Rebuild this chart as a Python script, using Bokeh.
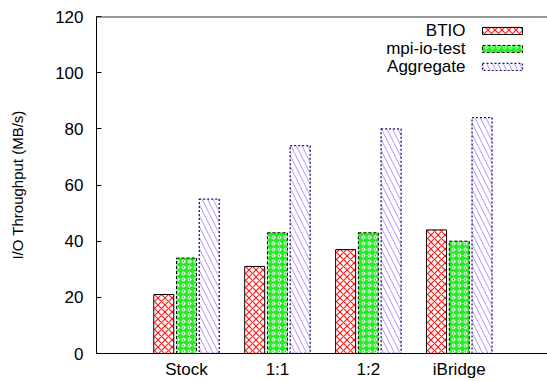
from bokeh.plotting import figure
from bokeh.models import (ColumnDataSource, Legend, LegendItem, Label, Span,
                          FixedTicker)
from bokeh.embed import file_html
from bokeh.resources import INLINE

categories = ["Stock", "1:1", "1:2", "iBridge"]
btio = [21, 31, 37, 44]
mpi_io_test = [34, 43, 43, 40]
aggregate = [55, 74, 80, 84]
series_names = ["BTIO", "mpi-io-test", "Aggregate"]
y_ticks = [0, 20, 40, 60, 80, 100, 120]

FONT = "Liberation Sans"

p = figure(width=547, height=381, output_backend="svg", toolbar_location=None,
           x_range=(-0.99, 3.97), y_range=(0, 120),
           min_border_left=96, min_border_right=0, min_border_top=16,
           min_border_bottom=27)
p.outline_line_color = None
p.xgrid.visible = False
p.ygrid.visible = False

xs = list(range(len(categories)))
bw = 0.22
off = 0.25

src_b = ColumnDataSource(dict(x=[x - off for x in xs], top=btio))
src_m = ColumnDataSource(dict(x=xs, top=mpi_io_test))
src_a = ColumnDataSource(dict(x=[x + off for x in xs], top=aggregate))

r_b = p.vbar(x="x", top="top", width=bw, source=src_b,
             fill_color="white", line_color="black", line_width=1,
             hatch_pattern="diagonal_cross", hatch_color="#ff1a1a",
             hatch_scale=7, hatch_weight=1.2)
r_m = p.vbar(x="x", top="top", width=bw, source=src_m,
             fill_color="#22ee22", line_color="black", line_width=1,
             line_dash="3 2",
             hatch_pattern="ring", hatch_color="white",
             hatch_scale=6, hatch_weight=1)
r_a = p.vbar(x="x", top="top", width=bw, source=src_a,
             fill_color="white", line_color="#2a0a6e", line_width=1.3,
             line_dash="2 2",
             hatch_pattern="left_diagonal_line", hatch_color="#9b6bff",
             hatch_scale=11, hatch_weight=1, hatch_alpha=0.75)

# top border line
p.add_layout(Span(location=120, dimension="width", line_color="#333333",
                  line_width=2))

# axes
p.yaxis.ticker = FixedTicker(ticks=y_ticks)
p.yaxis.major_tick_in = 5
p.yaxis.major_tick_out = 0
p.yaxis.minor_tick_line_color = None
p.yaxis.major_label_standoff = 13
p.yaxis.major_label_text_font = FONT
p.yaxis.major_label_text_font_size = "17px"
p.yaxis.major_label_text_color = "black"
p.yaxis.axis_label = "I/O Throughput (MB/s)"
p.yaxis.axis_label_text_font = FONT
p.yaxis.axis_label_text_font_size = "15px"
p.yaxis.axis_label_text_font_style = "normal"
p.yaxis.axis_label_text_color = "black"
p.yaxis.axis_label_standoff = 26
p.yaxis.axis_line_color = "black"

p.xaxis.ticker = FixedTicker(ticks=xs)
p.xaxis.major_label_overrides = {i: c for i, c in enumerate(categories)}
p.xaxis.major_tick_in = 0
p.xaxis.major_tick_out = 0
p.xaxis.minor_tick_in = 0
p.xaxis.minor_tick_out = 0
p.xaxis.major_label_standoff = 6
p.xaxis.major_label_text_font = FONT
p.xaxis.major_label_text_font_size = "17px"
p.xaxis.major_label_text_color = "black"
p.xaxis.axis_line_color = "black"

# legend: glyph boxes on the right, text right aligned to their left
legend = Legend(items=[LegendItem(label=" ", renderers=[r]) for r in (r_b, r_m, r_a)],
                location=(381, 282), orientation="vertical",
                glyph_width=50, glyph_height=9, label_height=9,
                label_width=0, label_standoff=0, spacing=9,
                padding=0, margin=0, border_line_color=None,
                background_fill_alpha=0, label_text_font_size="1px")
p.add_layout(legend)

for i, name in enumerate(series_names):
    p.add_layout(Label(x=369, y=323 - i * 18, x_units="screen",
                       y_units="screen", text=name, text_align="right",
                       text_baseline="middle", text_font=FONT,
                       text_font_size="17px", text_color="black"))

open("out.html", "w").write(file_html(p, INLINE))
